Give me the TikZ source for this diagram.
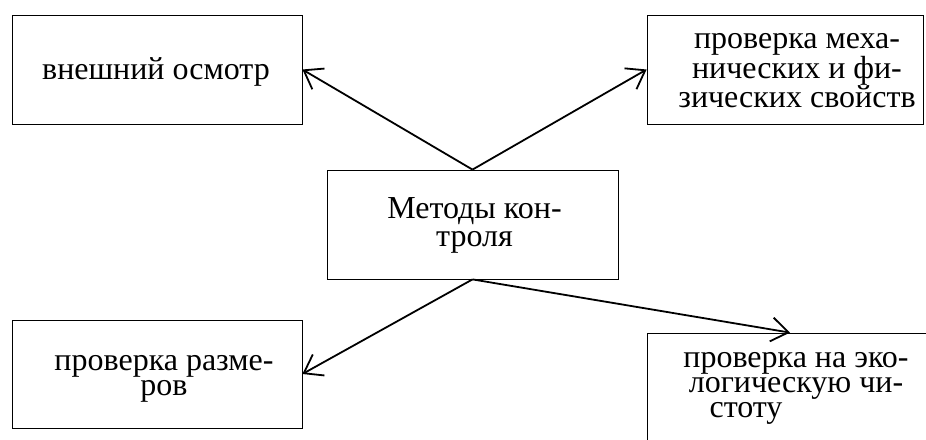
\documentclass[tikz,border=0pt]{standalone}
\usepackage{fontspec}
\setmainfont{Liberation Serif}
\usetikzlibrary{arrows.meta}
\begin{document}
\begin{tikzpicture}[x=1pt,y=-1pt,
  box/.style={draw, line width=0.8pt, rectangle, inner sep=0pt},
  txt/.style={inner sep=0pt, align=center, font=\fontsize{32}{25}\selectfont},
  conn/.style={line width=1.8pt, -{Straight Barb[length=17pt,width=24pt,line width=1.8pt]}}]
\useasboundingbox (0,0) rectangle (926,439);
\clip (0,0) rectangle (926,439);
\node[box, minimum width=290pt, minimum height=109pt] (tl) at (157,69.5) {};
\node[box, minimum width=276pt, minimum height=109pt] (tr) at (785,69.5) {};
\node[box, minimum width=291pt, minimum height=109pt] (c) at (472.5,224.5) {};
\node[box, minimum width=290pt, minimum height=108pt] (bl) at (157,374) {};
\node[box, minimum width=286pt, minimum height=108pt] (br) at (790,387) {};
\node[txt] (tlt) at ([xshift=-1pt,yshift=-2pt]tl.center) {внешний осмотр};
\node[txt] (trt) at ([xshift=12pt,yshift=-1pt]tr.center) {проверка меха-\\нических и фи-\\зических свойств};
\node[txt, font=\fontsize{32}{28.5}\selectfont] (ct) at ([xshift=2pt,yshift=-1pt]c.center) {Методы кон-\\троля};
\node[txt] (blt) at ([xshift=7pt,yshift=-5pt]bl.center) {проверка разме-\\ров};
\node[txt] (brt) at ([xshift=6pt,yshift=-1pt]br.center) {проверка на эко-\\логическую чи-\\стоту\kern100pt\null};
\draw[conn] (c.north) -- (tl.east);
\draw[conn] (c.north) -- (tr.west);
\draw[conn] (c.south) -- (bl.east);
\draw[conn] (c.south) -- (br.north);
\end{tikzpicture}
\end{document}
